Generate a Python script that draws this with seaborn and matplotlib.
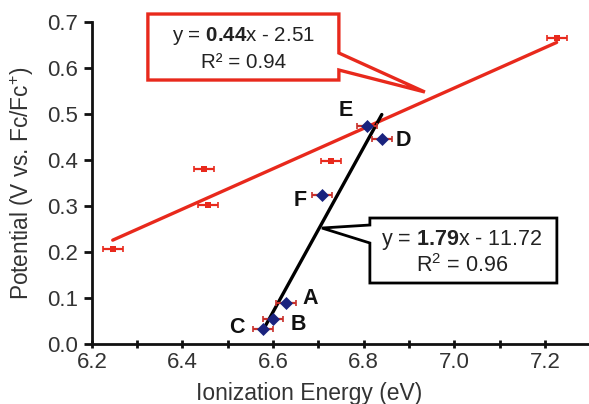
import matplotlib
matplotlib.use("Agg")
import matplotlib.pyplot as plt
import seaborn as sns
import numpy as np
import pandas as pd
from matplotlib.patches import Polygon

# ---- data ----
red_x = [6.246, 6.447, 6.456, 6.727, 7.226]
red_y = [0.206, 0.380, 0.302, 0.397, 0.665]
blue_labels = ["A", "B", "C", "D", "E", "F"]
blue_x = [6.628, 6.600, 6.577, 6.840, 6.807, 6.708]
blue_y = [0.089, 0.054, 0.033, 0.446, 0.474, 0.324]
x_err = 0.022
x_ticks = [6.2, 6.4, 6.6, 6.8, 7.0, 7.2]
y_ticks = [0.0, 0.1, 0.2, 0.3, 0.4, 0.5, 0.6, 0.7]

red_df = pd.DataFrame({"x": red_x, "y": red_y})
blue_df = pd.DataFrame({"x": blue_x, "y": blue_y, "label": blue_labels})

sns.set_theme(style="ticks")
plt.rcParams["font.family"] = ["Liberation Sans", "DejaVu Sans"]
plt.rcParams["mathtext.fontset"] = "custom"
plt.rcParams["mathtext.rm"] = "Liberation Sans"
plt.rcParams["mathtext.bf"] = "Liberation Sans:bold"
plt.rcParams["mathtext.it"] = "Liberation Sans:italic"

RED = "#e8291c"
BLUE = "#1a237e"
EBAR = "#c8302a"

fig = plt.figure(figsize=(5.89, 4.04), dpi=100)
ax = fig.add_axes([0.156, 0.1485, 0.846, 0.797])

# fit lines
sns.regplot(data=red_df, x="x", y="y", ax=ax, scatter=False, ci=None,
            line_kws=dict(color=RED, lw=2.4, zorder=2))
sns.regplot(data=blue_df, x="x", y="y", ax=ax, scatter=False, ci=None,
            line_kws=dict(color="black", lw=2.4, zorder=2))

# error bars
ax.errorbar(red_x, red_y, xerr=x_err, fmt="none", ecolor=RED, elinewidth=1.6,
            capsize=2, capthick=1.2, zorder=3)
ax.errorbar(blue_x, blue_y, xerr=x_err, fmt="none", ecolor=EBAR, elinewidth=1.6,
            capsize=2, capthick=1.2, zorder=3)

# markers
sns.scatterplot(data=red_df, x="x", y="y", ax=ax, marker="s", s=24, color=RED,
                edgecolor=RED, linewidth=0, zorder=4)
sns.scatterplot(data=blue_df, x="x", y="y", ax=ax, marker="D", s=44, color=BLUE,
                edgecolor=BLUE, linewidth=0, zorder=4)

# point letters
offsets = {"E": (-21, 15), "D": (22, -2), "F": (-22, -6), "A": (24, 5),
           "B": (25, -5), "C": (-26, 1)}
for lab, xx, yy in zip(blue_labels, blue_x, blue_y):
    ax.annotate(lab, (xx, yy), xytext=offsets[lab], textcoords="offset pixels",
                ha="center", va="center", fontsize=15.5, fontweight="bold",
                color="#111111", zorder=6)

# callout boxes
def px2data(px, py):
    return (6.2 + (px - 92) / 453.0, (344 - py) / 460.0)

red_box = [px2data(*p) for p in [(148, 14), (339, 14), (339, 53), (425, 92),
                                  (339, 70), (339, 80), (148, 80)]]
ax.add_patch(Polygon(red_box, closed=True, facecolor="white", edgecolor=RED,
                     lw=2.4, zorder=5, clip_on=False, joinstyle="miter"))
blk_box = [px2data(*p) for p in [(370, 218), (557, 218), (557, 283), (370, 283),
                                  (370, 243), (322, 228), (370, 225)]]
ax.add_patch(Polygon(blk_box, closed=True, facecolor="white", edgecolor="black",
                     lw=2.0, zorder=5, clip_on=False, joinstyle="miter"))

tx, ty = px2data(244, 36)
ax.text(tx, ty, r"y = $\mathbf{0.44}$x - 2.51", ha="center", va="center",
        fontsize=14.8, color="#222222", zorder=6)
tx, ty = px2data(244, 62)
ax.text(tx, ty, "R² = 0.94", ha="center", va="center", fontsize=14.8,
        color="#222222", zorder=6)
tx, ty = px2data(462, 240)
ax.text(tx, ty, r"y = $\mathbf{1.79}$x - 11.72", ha="center", va="center",
        fontsize=15.5, color="#222222", zorder=6)
tx, ty = px2data(462, 266)
ax.text(tx, ty, r"R$^{2}$ = 0.96", ha="center", va="center", fontsize=15.5,
        color="#222222", zorder=6)

# axes styling
ax.set_xlim(6.2, 7.3)
ax.set_ylim(0.0, 0.7)
ax.set_xticks(x_ticks)
ax.set_xticklabels([f"{v:.1f}" for v in x_ticks])
ax.set_xticks([6.3, 6.5, 6.7, 6.9, 7.1, 7.3], minor=True)
ax.set_yticks(y_ticks)
ax.set_yticklabels([f"{v:.1f}" for v in y_ticks])
ax.tick_params(axis="x", which="both", direction="inout", length=6, width=2,
               labelsize=16, pad=3, colors="#111111", labelcolor="#333333")
ax.tick_params(axis="y", which="major", direction="out", length=6, width=2,
               labelsize=16, pad=4, colors="#111111", labelcolor="#333333")
for s in ["top", "right"]:
    ax.spines[s].set_visible(False)
for s in ["left", "bottom"]:
    ax.spines[s].set_linewidth(2)
    ax.spines[s].set_color("#111111")

ax.set_xlabel("Ionization Energy (eV)", fontsize=16.5, color="#333333")
ax.xaxis.set_label_coords(0.435, -0.118)
ax.set_ylabel("Potential (V vs. Fc/Fc$^{+}$)", fontsize=16.3, color="#333333",
              labelpad=8)
ax.patch.set_alpha(0)

fig.savefig("out.png", dpi=100)
